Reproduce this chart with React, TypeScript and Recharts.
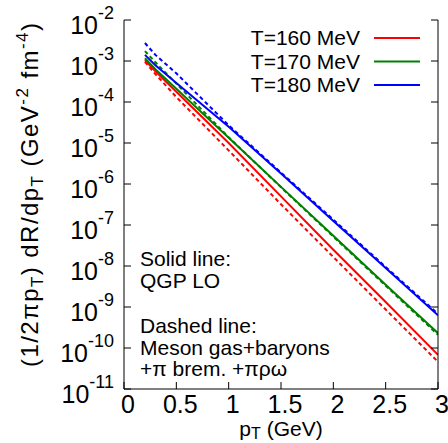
import React from 'react';
import { LineChart, Line, XAxis, YAxis, Legend } from 'recharts';

// transverse momentum (GeV)
const pT = [0.2, 0.3, 0.5, 1.0, 1.5, 2.0, 2.5, 3.0];
// Solid: QGP LO
const qgp160 = [1.05e-3, 5.6e-4, 1.78e-4, 1.0e-5, 5.0e-7, 2.5e-8, 1.32e-9, 6.8e-11];
const qgp170 = [1.17e-3, 6.3e-4, 2.1e-4, 1.35e-5, 8.5e-7, 5.5e-8, 3.5e-9, 2.3e-10];
const qgp180 = [1.41e-3, 7.9e-4, 2.9e-4, 2.5e-5, 1.8e-6, 1.26e-7, 8.9e-9, 6.3e-10];
// Dashed: Meson gas + baryons + pi brem + pi rho omega
const hg160 = [9.5e-4, 4.8e-4, 1.32e-4, 6.6e-6, 3.2e-7, 1.66e-8, 8.7e-10, 4.6e-11];
const hg170 = [1.74e-3, 9.3e-4, 2.8e-4, 1.38e-5, 8.3e-7, 5.2e-8, 3.3e-9, 2.1e-10];
const hg180 = [2.75e-3, 1.41e-3, 5.0e-4, 2.7e-5, 1.9e-6, 1.35e-7, 9.5e-9, 6.8e-10];

const xTicks = [0, 0.5, 1, 1.5, 2, 2.5, 3];
const yTicks = [1e-2, 1e-3, 1e-4, 1e-5, 1e-6, 1e-7, 1e-8, 1e-9, 1e-10, 1e-11];
const legendLabels = ['T=160 MeV', 'T=170 MeV', 'T=180 MeV'];

const RED = '#ff0000';
const GREEN = '#008000';
const BLUE = '#0000ff';
const FONT = '"Liberation Sans", Arial, sans-serif';

const data = pT.map((x, i) => ({
  pT: x,
  qgp160: qgp160[i],
  qgp170: qgp170[i],
  qgp180: qgp180[i],
  hg160: hg160[i],
  hg170: hg170[i],
  hg180: hg180[i],
}));

const TL = 7;

const LeftTick = (props: any) => {
  const { x, y, payload } = props;
  const exp = Math.round(Math.log10(payload.value));
  return (
    <g>
      <line x1={x} x2={x + TL} y1={y} y2={y} stroke="#000" strokeWidth={1} />
      <text x={x - 10} y={y + 14} textAnchor="end" fontFamily={FONT} fill="#000">
        <tspan fontSize={25}>10</tspan>
        <tspan fontSize={18} dy={-15}>{`${exp}`}</tspan>
      </text>
    </g>
  );
};

const RightTick = (props: any) => {
  const { x, y } = props;
  return <line x1={x - TL} x2={x} y1={y} y2={y} stroke="#000" strokeWidth={1} />;
};

const BottomTick = (props: any) => {
  const { x, y, payload } = props;
  return (
    <g>
      <line x1={x} x2={x} y1={y - TL} y2={y} stroke="#000" strokeWidth={1} />
      <text x={x + 4} y={y + 24} textAnchor="middle" fontFamily={FONT} fontSize={25} fill="#000">
        {`${payload.value}`}
      </text>
    </g>
  );
};

const TopTick = (props: any) => {
  const { x, y } = props;
  return <line x1={x} x2={x} y1={y} y2={y + TL} stroke="#000" strokeWidth={1} />;
};

const legendColors = [RED, GREEN, BLUE];

const LegendBox = () => (
  <svg width={200} height={80} style={{ display: 'block', overflow: 'visible' }}>
    {legendLabels.map((t, i) => (
      <g key={t}>
        <text x={120} y={20 + i * 23.5} textAnchor="end" fontFamily={FONT} fontSize={21} fill="#000">
          {t}
        </text>
        <line x1={134} x2={180} y1={13 + i * 23.5} y2={13 + i * 23.5} stroke={legendColors[i]} strokeWidth={2} />
      </g>
    ))}
  </svg>
);

export default function App() {
  return (
    <div style={{ position: 'absolute', left: 0, top: 0, width: 448, height: 443, background: '#fff' }}>
      <LineChart width={448} height={443} data={data} margin={{ top: 20, right: 0, bottom: 0, left: 0 }}>
        <XAxis
          dataKey="pT"
          type="number"
          domain={[0, 3]}
          ticks={xTicks}
          allowDataOverflow
          height={54}
          tickSize={0}
          tickMargin={0}
          tickLine={false}
          axisLine={{ stroke: '#000', strokeWidth: 1 }}
          tick={<BottomTick />}
          interval={0}
        />
        <XAxis
          xAxisId="top"
          orientation="top"
          type="number"
          domain={[0, 3]}
          ticks={xTicks}
          allowDataOverflow
          height={0}
          tickSize={0}
          tickMargin={0}
          tickLine={false}
          axisLine={{ stroke: '#000', strokeWidth: 1 }}
          tick={<TopTick />}
          interval={0}
        />
        <YAxis
          type="number"
          scale="log"
          domain={[1e-11, 1e-2]}
          ticks={yTicks}
          allowDataOverflow
          width={124}
          tickSize={0}
          tickMargin={0}
          tickLine={false}
          axisLine={{ stroke: '#000', strokeWidth: 1 }}
          tick={<LeftTick />}
          interval={0}
        />
        <YAxis
          yAxisId="right"
          orientation="right"
          type="number"
          scale="log"
          domain={[1e-11, 1e-2]}
          ticks={yTicks}
          allowDataOverflow
          width={10}
          tickSize={0}
          tickMargin={0}
          tickLine={false}
          axisLine={{ stroke: '#000', strokeWidth: 1 }}
          tick={<RightTick />}
          interval={0}
        />
        <Legend
          layout="vertical"
          align="center"
          verticalAlign="middle"
          content={<LegendBox />}
          wrapperStyle={{ position: 'absolute', left: 240, top: 25, width: 200 }}
        />
        <Line dataKey="qgp160" stroke={RED} strokeWidth={2} dot={false} isAnimationActive={false} />
        <Line dataKey="hg160" stroke={RED} strokeWidth={2} strokeDasharray="4 3" dot={false} isAnimationActive={false} legendType="none" />
        <Line dataKey="qgp170" stroke={GREEN} strokeWidth={2} dot={false} isAnimationActive={false} />
        <Line dataKey="hg170" stroke={GREEN} strokeWidth={2} strokeDasharray="4 3" dot={false} isAnimationActive={false} legendType="none" />
        <Line dataKey="qgp180" stroke={BLUE} strokeWidth={2} dot={false} isAnimationActive={false} />
        <Line dataKey="hg180" stroke={BLUE} strokeWidth={2} strokeDasharray="4 3" dot={false} isAnimationActive={false} legendType="none" />
        <g fontFamily={FONT} fill="#000" fontSize={21}>
          <text x={140} y={266}>Solid line:</text>
          <text x={140} y={288}>QGP LO</text>
          <text x={140} y={333}>Dashed line:</text>
          <text x={140} y={355}>Meson gas+baryons</text>
          <text x={140} y={376}>+π brem. +πρω</text>
          <text x={281} y={436} textAnchor="middle" fontSize={21}>
            p<tspan fontSize={16} dy={3}>T</tspan>
            <tspan dy={-3}> (GeV)</tspan>
          </text>
          <text
            transform="translate(38,195) rotate(-90)"
            textAnchor="middle"
            fontSize={24}
            textLength={344}
            lengthAdjust="spacing"
          >
            (1/2πp<tspan fontSize={17} dy={5}>T</tspan>
            <tspan dy={-5}>) dR/dp</tspan>
            <tspan fontSize={17} dy={5}>T</tspan>
            <tspan dy={-5}> (GeV</tspan>
            <tspan fontSize={17} dy={-10}>-2</tspan>
            <tspan dy={10}> fm</tspan>
            <tspan fontSize={17} dy={-10}>-4</tspan>
            <tspan dy={10}>)</tspan>
          </text>
        </g>
      </LineChart>
    </div>
  );
}
